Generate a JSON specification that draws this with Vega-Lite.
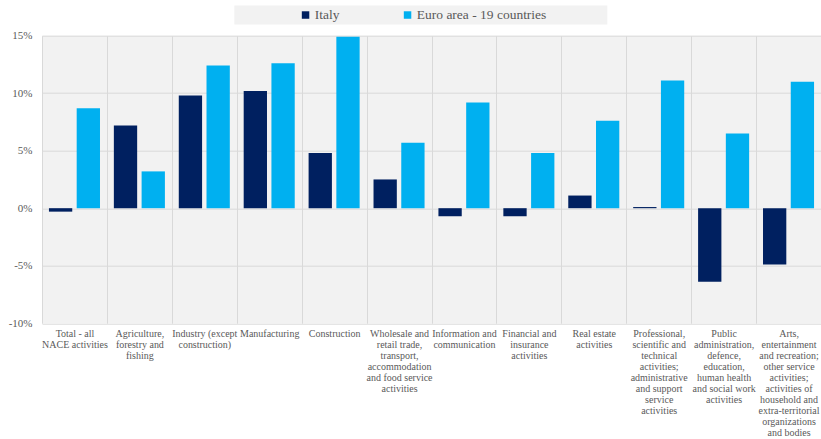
{
  "$schema": "https://vega.github.io/schema/vega-lite/v6.json",
  "autosize": {"type": "none"},
  "width": 779,
  "height": 287.5,
  "padding": {"left": 42, "top": 35.7, "right": 0, "bottom": 116},
  "background": "white",
  "config": {
    "font": "Liberation Serif",
    "view": {"fill": "#F2F2F2", "stroke": null},
    "axis": {"labelColor": "#595959", "labelFont": "Liberation Serif", "gridColor": "#D9D9D9", "gridWidth": 1, "domain": false, "ticks": false, "title": null}
  },
  "data": {
    "values": [
      {"sector": "Total - all\nNACE activities", "area": "Italy", "value": -0.3},
      {"sector": "Total - all\nNACE activities", "area": "Euro area - 19 countries", "value": 8.7},
      {"sector": "Agriculture,\nforestry and\nfishing", "area": "Italy", "value": 7.2},
      {"sector": "Agriculture,\nforestry and\nfishing", "area": "Euro area - 19 countries", "value": 3.2},
      {"sector": "Industry (except\nconstruction)", "area": "Italy", "value": 9.8},
      {"sector": "Industry (except\nconstruction)", "area": "Euro area - 19 countries", "value": 12.4},
      {"sector": "Manufacturing", "area": "Italy", "value": 10.2},
      {"sector": "Manufacturing", "area": "Euro area - 19 countries", "value": 12.6},
      {"sector": "Construction", "area": "Italy", "value": 4.8},
      {"sector": "Construction", "area": "Euro area - 19 countries", "value": 14.9},
      {"sector": "Wholesale and\nretail trade,\ntransport,\naccommodation\nand food service\nactivities", "area": "Italy", "value": 2.5},
      {"sector": "Wholesale and\nretail trade,\ntransport,\naccommodation\nand food service\nactivities", "area": "Euro area - 19 countries", "value": 5.7},
      {"sector": "Information and\ncommunication", "area": "Italy", "value": -0.7},
      {"sector": "Information and\ncommunication", "area": "Euro area - 19 countries", "value": 9.2},
      {"sector": "Financial and\ninsurance\nactivities", "area": "Italy", "value": -0.7},
      {"sector": "Financial and\ninsurance\nactivities", "area": "Euro area - 19 countries", "value": 4.8},
      {"sector": "Real estate\nactivities", "area": "Italy", "value": 1.1},
      {"sector": "Real estate\nactivities", "area": "Euro area - 19 countries", "value": 7.6},
      {"sector": "Professional,\nscientific and\ntechnical\nactivities;\nadministrative\nand support\nservice\nactivities", "area": "Italy", "value": 0.1},
      {"sector": "Professional,\nscientific and\ntechnical\nactivities;\nadministrative\nand support\nservice\nactivities", "area": "Euro area - 19 countries", "value": 11.1},
      {"sector": "Public\nadministration,\ndefence,\neducation,\nhuman health\nand social work\nactivities", "area": "Italy", "value": -6.4},
      {"sector": "Public\nadministration,\ndefence,\neducation,\nhuman health\nand social work\nactivities", "area": "Euro area - 19 countries", "value": 6.5},
      {"sector": "Arts,\nentertainment\nand recreation;\nother service\nactivities;\nactivities of\nhousehold and\nextra-territorial\norganizations\nand bodies", "area": "Italy", "value": -4.9},
      {"sector": "Arts,\nentertainment\nand recreation;\nother service\nactivities;\nactivities of\nhousehold and\nextra-territorial\norganizations\nand bodies", "area": "Euro area - 19 countries", "value": 11.0}
    ]
  },
  "mark": {"type": "bar"},
  "encoding": {
    "x": {
      "field": "sector", "type": "nominal", "sort": null,
      "scale": {"paddingInner": 0, "paddingOuter": 0},
      "axis": {"labelAngle": 0, "tickBand": "extent", "grid": true, "labelFont": "Liberation Serif", "labelColor": "#595959", "labelFontSize": 10, "labelLineHeight": 11, "labelPadding": 5, "labelExpr": "split(datum.label, '\\n')", "labelLimit": 0}
    },
    "xOffset": {
      "field": "area", "type": "nominal", "sort": ["Italy", "Euro area - 19 countries"],
      "scale": {"paddingInner": 0.16, "paddingOuter": 0.25}
    },
    "y": {
      "field": "value", "type": "quantitative",
      "scale": {"domain": [-10, 15], "nice": false, "zero": false},
      "axis": {"values": [-10, -5, 0, 5, 10, 15], "labelExpr": "datum.value + '%'", "labelFont": "Liberation Serif", "labelColor": "#595959", "labelFontSize": 11, "labelPadding": 10, "grid": true}
    },
    "color": {
      "field": "area", "type": "nominal",
      "sort": ["Italy", "Euro area - 19 countries"],
      "scale": {"domain": ["Italy", "Euro area - 19 countries"], "range": ["#002060", "#00B0F0"]},
      "legend": {
        "orient": "none", "legendX": 192.3, "legendY": -30.3,
        "direction": "horizontal",
        "title": "\u00a0", "titleOrient": "left", "titlePadding": 62, "titleFontSize": 11,
        "fillColor": "#F2F2F2", "padding": 2.5,
        "symbolType": "square", "symbolSize": 56, "symbolStrokeWidth": 0,
        "labelFont": "Liberation Serif", "labelFontSize": 13.5, "labelColor": "#595959", "labelOffset": 2.5,
        "columnPadding": 61,
        "labelExpr": "datum.value == 'Euro area - 19 countries' ? datum.label + '\u00a0\u00a0\u00a0\u00a0\u00a0\u00a0\u00a0\u00a0\u00a0\u00a0\u00a0\u00a0\u00a0\u00a0\u00a0\u00a0\u00a0\u200b' : datum.label",
        "labelLimit": 0
      }
    }
  }
}
